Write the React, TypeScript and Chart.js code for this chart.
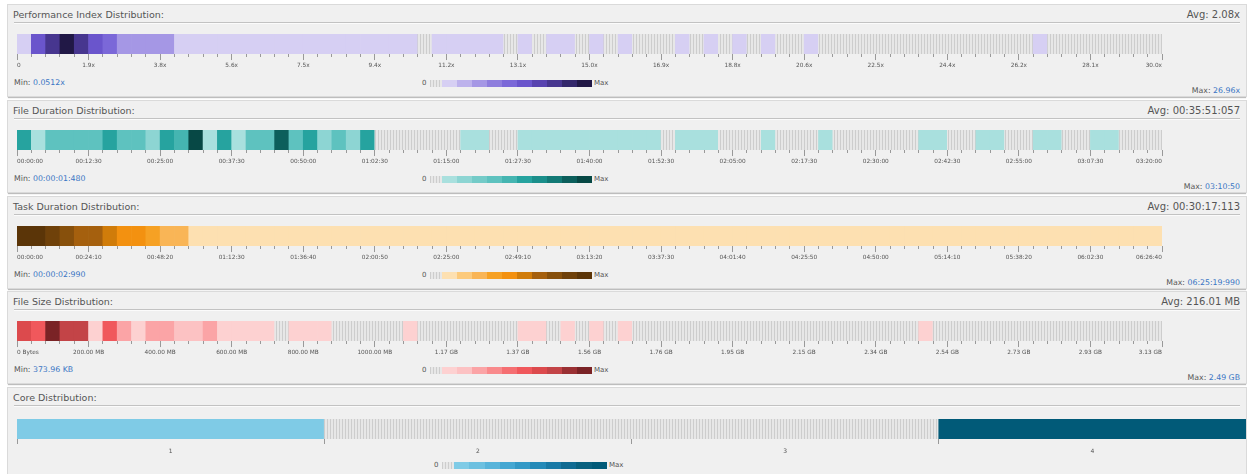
import React, { useEffect, useRef } from 'react';
import { Chart, registerables } from 'chart.js';

Chart.register(...registerables);

const FONT = "'DejaVu Sans', Verdana, sans-serif";

// ---------- palettes (shade 1 = lightest ... 10 = darkest) ----------
const purplePalette = ['#d6cff3', '#bdb2ec', '#a597e5', '#8e7ddd', '#7b68d8', '#6a55cc', '#5843b0', '#47368f', '#33276b', '#211846'];
const tealPalette = ['#a9e0de', '#8dd5d3', '#74cbc8', '#5ec2bf', '#45b5b1', '#26a39f', '#1b8f8b', '#137a76', '#0c5f5c', '#074845'];
const orangePalette = ['#fde0b1', '#fcca7c', '#f9b556', '#f6a124', '#f39110', '#d07c0a', '#a5600e', '#87500c', '#6f410a', '#5b3508'];
const redPalette = ['#fdd1d1', '#fcc2c3', '#fba4a6', '#f98a8c', '#f56f72', '#f0585c', '#dc4a4d', '#c34447', '#9a3033', '#7a2326'];
const bluePalette = ['#7fcbe6', '#6cc0e0', '#58b4da', '#44a7d2', '#3399c6', '#248ab8', '#197aa6', '#106b92', '#09617f', '#015a78'];

// ---------- Performance Index ----------
const perfTitle = 'Performance Index Distribution:';
const perfAvg = 'Avg: 2.08x';
const perfMin = '0.0512x';
const perfMax = '26.96x';
const perfTicks = ['0', '1.9x', '3.8x', '5.6x', '7.5x', '9.4x', '11.2x', '13.1x', '15.0x', '16.9x', '18.8x', '20.6x', '22.5x', '24.4x', '26.2x', '28.1x', '30.0x'];
const perfLevels = [
  1, 6, 8, 10, 8, 6, 5, 3, 3, 3, 3,
  1, 1, 1, 1, 1, 1, 1, 1, 1, 1, 1, 1, 1, 1, 1, 1, 1,
  0, 1, 1, 1, 1, 1,
  0, 1, 0, 1, 1, 0, 1, 0, 1, 0, 0, 0,
  1, 0, 1, 0, 1, 0, 1, 0, 0, 1,
  0, 0, 0, 0, 0, 0, 0, 0, 0, 0, 0, 0, 0, 0, 0,
  1,
  0, 0, 0, 0, 0, 0, 0, 0,
];

// ---------- File Duration ----------
const durTitle = 'File Duration Distribution:';
const durAvg = 'Avg: 00:35:51:057';
const durMin = '00:00:01:480';
const durMax = '03:10:50';
const durTicks = ['00:00:00', '00:12:30', '00:25:00', '00:37:30', '00:50:00', '01:02:30', '01:15:00', '01:27:30', '01:40:00', '01:52:30', '02:05:00', '02:17:30', '02:30:00', '02:42:30', '02:55:00', '03:07:30', '03:20:00'];
const durLevels = [
  6, 1, 4, 4, 4, 4, 6, 4, 4, 2, 6, 5, 10, 1, 6, 1, 4, 4, 9, 4, 6, 2, 4, 2, 6,
  0, 0, 0, 0, 0, 0,
  1, 1, 0, 0,
  1, 1, 1, 1, 1, 1, 1, 1, 1, 1,
  0, 1, 1, 1, 0, 0, 0, 1, 0, 0, 0, 1,
  0, 0, 0, 0, 0, 0,
  1, 1, 0, 0, 1, 1, 0, 0, 1, 1, 0, 0, 1, 1, 0, 0, 0,
];

// ---------- Task Duration ----------
const taskTitle = 'Task Duration Distribution:';
const taskAvg = 'Avg: 00:30:17:113';
const taskMin = '00:00:02:990';
const taskMax = '06:25:19:990';
const taskTicks = ['00:00:00', '00:24:10', '00:48:20', '01:12:30', '01:36:40', '02:00:50', '02:25:00', '02:49:10', '03:13:20', '03:37:30', '04:01:40', '04:25:50', '04:50:00', '05:14:10', '05:38:20', '06:02:30', '06:26:40'];
const taskLevels = [
  10, 10, 9, 8, 7, 7, 6, 5, 5, 4, 3, 3,
  1, 1, 1, 1, 1, 1, 1, 1, 1, 1, 1, 1, 1, 1, 1, 1, 1, 1, 1, 1,
  1, 1, 1, 1, 1, 1, 1, 1, 1, 1, 1, 1, 1, 1, 1, 1, 1, 1, 1, 1,
  1, 1, 1, 1, 1, 1, 1, 1, 1, 1, 1, 1, 1, 1, 1, 1, 1, 1, 1, 1,
  1, 1, 1, 1, 1, 1, 1, 1,
];

// ---------- File Size ----------
const sizeTitle = 'File Size Distribution:';
const sizeAvg = 'Avg: 216.01 MB';
const sizeMin = '373.96 KB';
const sizeMax = '2.49 GB';
const sizeTicks = ['0 Bytes', '200.00 MB', '400.00 MB', '600.00 MB', '800.00 MB', '1000.00 MB', '1.17 GB', '1.37 GB', '1.56 GB', '1.76 GB', '1.95 GB', '2.15 GB', '2.34 GB', '2.54 GB', '2.73 GB', '2.93 GB', '3.13 GB'];
const sizeLevels = [
  7, 6, 10, 8, 8, 1, 6, 3, 1, 3, 3, 2, 2, 3, 1, 1, 1, 1,
  0, 1, 1, 1, 0, 0, 0, 0, 0, 1,
  0, 0, 0, 0, 0, 0, 0,
  1, 1, 0, 1, 0, 1, 0, 1,
  0, 0, 0, 0, 0, 0, 0, 0, 0, 0, 0, 0, 0, 0, 0, 0, 0, 0, 0, 0,
  1,
  0, 0, 0, 0, 0, 0, 0, 0, 0, 0, 0, 0, 0, 0, 0, 0,
];

// ---------- Core ----------
const coreTitle = 'Core Distribution:';
const coreLabels = ['1', '2', '3', '4'];
const coreLevels = [1, 0, 0, 10];

function makeGrayPattern(): CanvasPattern | string {
  const c = document.createElement('canvas');
  c.width = 3;
  c.height = 4;
  const g = c.getContext('2d');
  if (!g) return '#e2e2e2';
  g.fillStyle = '#e7e7e7';
  g.fillRect(0, 0, 3, 4);
  g.fillStyle = '#cdcdcd';
  g.fillRect(0, 0, 1, 4);
  return g.createPattern(c, 'repeat') || '#e2e2e2';
}

const GRAY_CSS = 'repeating-linear-gradient(90deg, #cdcdcd 0 1px, #e7e7e7 1px 3px)';

type BinStripProps = {
  levels: number[];
  palette: string[];
  tickLabels: string[];
  top: number;
};

function BinStrip({ levels, palette, tickLabels, top }: BinStripProps) {
  const ref = useRef<HTMLCanvasElement>(null);
  useEffect(() => {
    if (!ref.current) return;
    const gray = makeGrayPattern();
    const n = levels.length;
    const perMajor = n / (tickLabels.length - 1);
    const chart = new Chart(ref.current, {
      type: 'bar',
      data: {
        datasets: [
          {
            data: levels.map((_, i) => ({ x: i + 0.5, y: 1 })),
            backgroundColor: levels.map((l) => (l > 0 ? palette[l - 1] : gray)) as any,
            borderWidth: 0,
            barPercentage: 1,
            categoryPercentage: 1,
          },
        ],
      },
      options: {
        animation: false,
        responsive: false,
        events: [],
        layout: { padding: { left: 8, right: 83, top: 0, bottom: 0 } },
        plugins: { legend: { display: false }, tooltip: { enabled: false } },
        scales: {
          x: {
            type: 'linear',
            min: 0,
            max: n,
            offset: false,
            border: { display: false },
            grid: {
              offset: false,
              drawOnChartArea: false,
              drawTicks: true,
              tickLength: 6,
              tickColor: '#999999',
              tickWidth: 1,
              tickBorderDash: (ctx: any) => (ctx.index % perMajor === 0 ? [] : [3, 40]),
            } as any,
            ticks: {
              stepSize: 1,
              maxTicksLimit: 200,
              autoSkip: false,
              maxRotation: 0,
              minRotation: 0,
              align: 'inner',
              padding: 2,
              color: '#555555',
              font: { family: FONT, size: 5.8 },
              callback: (v: any) => {
                const k = Number(v) / perMajor;
                return Number.isInteger(k) ? tickLabels[k] : '';
              },
            },
          },
          y: { display: false, min: 0, max: 1 },
        },
      },
    } as any);
    return () => chart.destroy();
  }, []);
  return (
    <canvas
      ref={ref}
      width={1236}
      height={37}
      style={{ position: 'absolute', left: 1, top, display: 'block' }}
    />
  );
}

function CoreStrip({ top }: { top: number }) {
  const ref = useRef<HTMLCanvasElement>(null);
  useEffect(() => {
    if (!ref.current) return;
    const gray = makeGrayPattern();
    const chart = new Chart(ref.current, {
      type: 'bar',
      data: {
        labels: coreLabels,
        datasets: [
          {
            data: coreLevels.map(() => 1),
            backgroundColor: coreLevels.map((l) => (l > 0 ? bluePalette[l - 1] : gray)) as any,
            borderWidth: 0,
            barPercentage: 1,
            categoryPercentage: 1,
          },
        ],
      },
      options: {
        animation: false,
        responsive: false,
        events: [],
        layout: { padding: { left: 8, right: 0, top: 0, bottom: 0 } },
        plugins: { legend: { display: false }, tooltip: { enabled: false } },
        scales: {
          x: {
            type: 'category',
            offset: true,
            border: { display: false },
            grid: {
              offset: true,
              drawOnChartArea: false,
              drawTicks: true,
              tickLength: 5,
              tickColor: '#999999',
            },
            ticks: {
              padding: 4,
              color: '#555555',
              font: { family: FONT, size: 6 },
              maxRotation: 0,
            },
          },
          y: { display: false, min: 0, max: 1 },
        },
      },
    } as any);
    return () => chart.destroy();
  }, []);
  return (
    <canvas
      ref={ref}
      width={1237}
      height={40}
      style={{ position: 'absolute', left: 1, top, display: 'block' }}
    />
  );
}

function ColorLegend({ palette, left, top, cell }: { palette: string[]; left: number; top: number; cell: number }) {
  return (
    <div
      style={{
        position: 'absolute',
        left,
        top,
        height: 8,
        display: 'flex',
        alignItems: 'center',
        fontFamily: FONT,
        fontSize: 7,
        color: '#555',
        whiteSpace: 'nowrap',
      }}
    >
      <span style={{ width: 8 }}>0</span>
      <span style={{ width: 12, height: 7, background: GRAY_CSS }} />
      {palette.map((c, i) => (
        <span key={i} style={{ width: cell, height: 7, background: c }} />
      ))}
      <span style={{ marginLeft: 2 }}>Max</span>
    </div>
  );
}

type PanelProps = {
  top: number;
  height: number;
  title: string;
  avg?: string;
  children?: React.ReactNode;
};

function Panel({ top, height, title, avg, children }: PanelProps) {
  return (
    <div
      style={{
        position: 'absolute',
        left: 8,
        top,
        width: 1238,
        height,
        background: '#f0f0f0',
        boxShadow: '0 0 0 1px #dadada, 0 2px 1px 0 #bdbdbd',
        overflow: 'visible',
      }}
    >
      <div
        style={{
          position: 'absolute',
          left: 5,
          top: 4,
          fontFamily: FONT,
          fontSize: 9.5,
          lineHeight: '12px',
          color: '#555',
          whiteSpace: 'nowrap',
        }}
      >
        {title}
      </div>
      {avg && (
        <div
          style={{
            position: 'absolute',
            right: 6,
            top: 4,
            fontFamily: FONT,
            fontSize: 10,
            lineHeight: '12px',
            color: '#555',
            whiteSpace: 'nowrap',
          }}
        >
          {avg}
        </div>
      )}
      <div
        style={{
          position: 'absolute',
          left: 6,
          right: 6,
          top: 17,
          height: 1,
          background: '#c2c2c2',
          borderBottom: '1px solid #fbfbfb',
        }}
      />
      {children}
    </div>
  );
}

function MinMax({ minVal, maxVal }: { minVal: string; maxVal: string }) {
  const label: React.CSSProperties = {
    position: 'absolute',
    fontFamily: FONT,
    fontSize: 7.8,
    lineHeight: '10px',
    color: '#555',
    whiteSpace: 'nowrap',
  };
  return (
    <>
      <div style={{ ...label, left: 6, top: 73 }}>
        Min: <span style={{ color: '#3a75c4' }}>{minVal}</span>
      </div>
      <div style={{ ...label, right: 6, top: 81 }}>
        Max: <span style={{ color: '#3a75c4' }}>{maxVal}</span>
      </div>
    </>
  );
}

type BinPanelProps = {
  top: number;
  title: string;
  avg: string;
  minVal: string;
  maxVal: string;
  levels: number[];
  palette: string[];
  ticks: string[];
};

function BinPanel({ top, title, avg, minVal, maxVal, levels, palette, ticks }: BinPanelProps) {
  return (
    <Panel top={top} height={91} title={title} avg={avg}>
      <BinStrip levels={levels} palette={palette} tickLabels={ticks} top={29} />
      <MinMax minVal={minVal} maxVal={maxVal} />
      <ColorLegend palette={palette} left={414} top={74} cell={15} />
    </Panel>
  );
}

export default function App() {
  return (
    <div
      style={{
        position: 'absolute',
        left: 0,
        top: 0,
        width: 1251,
        height: 474,
        overflow: 'hidden',
        background: '#ffffff',
      }}
    >
      <BinPanel top={5} title={perfTitle} avg={perfAvg} minVal={perfMin} maxVal={perfMax} levels={perfLevels} palette={purplePalette} ticks={perfTicks} />
      <BinPanel top={101} title={durTitle} avg={durAvg} minVal={durMin} maxVal={durMax} levels={durLevels} palette={tealPalette} ticks={durTicks} />
      <BinPanel top={197} title={taskTitle} avg={taskAvg} minVal={taskMin} maxVal={taskMax} levels={taskLevels} palette={orangePalette} ticks={taskTicks} />
      <BinPanel top={292} title={sizeTitle} avg={sizeAvg} minVal={sizeMin} maxVal={sizeMax} levels={sizeLevels} palette={redPalette} ticks={sizeTicks} />
      <Panel top={388} height={100} title={coreTitle}>
        <CoreStrip top={31} />
        <ColorLegend palette={bluePalette} left={426} top={73} cell={15.3} />
      </Panel>
    </div>
  );
}
